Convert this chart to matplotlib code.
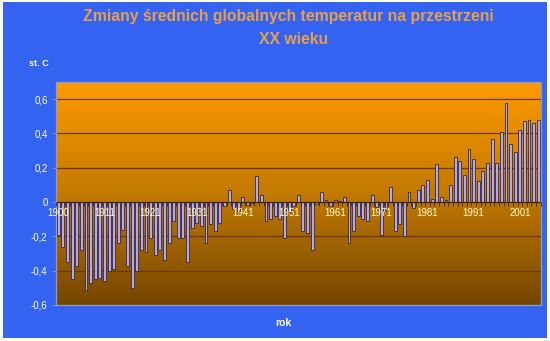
import numpy as np
import matplotlib.pyplot as plt
from matplotlib.colors import LinearSegmentedColormap
from matplotlib.patches import Rectangle

plt.rcParams['font.family'] = ['Liberation Sans', 'DejaVu Sans']

# odchylenia temperatury dla kolejnych lat (st. C)
anomalie = [-0.19, -0.26, -0.35, -0.45, -0.37, -0.28, -0.51, -0.47, -0.45, -0.44,
            -0.46, -0.40, -0.39, -0.24, -0.16, -0.37, -0.50, -0.40, -0.28, -0.29,
            -0.21, -0.31, -0.28, -0.34, -0.24, -0.11, -0.21, -0.21, -0.35, -0.15,
            -0.12, -0.14, -0.24, -0.13, -0.17, -0.12, -0.02, 0.07, -0.04, -0.05,
            0.03, -0.015, -0.005, 0.15, 0.04, -0.11, -0.10, -0.08, -0.10, -0.21,
            -0.06, -0.02, 0.04, -0.17, -0.18, -0.28, -0.01, 0.06, 0.01, -0.025,
            0.01, 0.005, 0.03, -0.24, -0.17, -0.08, -0.10, -0.11, 0.04, -0.03,
            -0.19, -0.045, 0.09, -0.17, -0.13, -0.20, 0.06, -0.035, 0.07, 0.10,
            0.13, 0.02, 0.22, 0.03, 0.01, 0.10, 0.26, 0.24, 0.16, 0.31,
            0.25, 0.12, 0.18, 0.23, 0.37, 0.23, 0.41, 0.58, 0.34, 0.29,
            0.42, 0.47, 0.48, 0.46, 0.48]

etykiety_lat = ['1900', '1911', '1921', '1931', '1941', '1951', '1961', '1971', '1981', '1991', '2001']
pozycje_etykiet = [0, 10, 20, 30, 40, 50, 60, 70, 80, 90, 100]

ticki_y = [-0.6, -0.4, -0.2, 0, 0.2, 0.4, 0.6]
etykiety_y = ['-0,6', '-0,4', '-0,2', '0', '0,2', '0,4', '0,6']

jasny = '#FFFFCC'
n = len(anomalie)

fig = plt.figure(figsize=(5.5, 3.41), dpi=100, facecolor='white')
tlo = Rectangle((3/550, 3/341), 544/550, 336/341, transform=fig.transFigure,
                facecolor='#3463F2', edgecolor='none', zorder=-10)
fig.add_artist(tlo)

ax = fig.add_axes([56/550, 1 - 305/341, 484.6/550, 223/341])

# gradient tla obszaru wykresu
cmap = LinearSegmentedColormap.from_list('brazowy', ['#754600', '#C27A00', '#FF9A00'])
ax.imshow(np.linspace(0, 1, 256).reshape(-1, 1), extent=(-0.5, n - 0.5, -0.6, 0.7),
          aspect='auto', cmap=cmap, origin='lower', zorder=0)
ax.set_xlim(-0.5, n - 0.5)
ax.set_ylim(-0.6, 0.7)

for y in [-0.4, -0.2, 0.2, 0.4, 0.6]:
    ax.axhline(y, color='#6a3800', lw=0.9, zorder=1)

ax.bar(np.arange(n), anomalie, width=0.62, color='#B4A8E6', edgecolor='#3a2a3a',
       linewidth=0.6, zorder=2)

# os x na wysokosci zera
for s in ['top', 'right', 'bottom', 'left']:
    ax.spines[s].set_visible(False)
ax.spines['bottom'].set_visible(True)
ax.spines['bottom'].set_position(('data', 0))
ax.spines['bottom'].set_color('#3a2410')
ax.spines['bottom'].set_linewidth(0.9)
ax.spines['bottom'].set_zorder(4)
ax.set_xticks(pozycje_etykiet, etykiety_lat)
ax.set_xticks(np.arange(-0.5, n), minor=True)
ax.tick_params(axis='x', which='major', length=0, pad=4, labelsize=7, labelcolor=jasny)
ax.tick_params(axis='x', which='minor', length=3, width=0.6, color='#3a2410', direction='out')
ax.xaxis.set_zorder(6)

ax.set_yticks(ticki_y, etykiety_y)
ax.tick_params(axis='y', length=3, width=0.6, color='#8a96b8', labelsize=7, labelcolor=jasny, pad=3)

ramka = Rectangle((0, 0), 1, 1, transform=ax.transAxes, fill=False,
                  edgecolor='#8e9cc4', lw=0.9, clip_on=False, zorder=5)
ax.add_patch(ramka)

fig.text(288.5/550, 1 - 17/341, 'Zmiany średnich globalnych temperatur na przestrzeni',
         ha='center', va='center', fontsize=11.3, fontweight='bold', color='#E8A048')
fig.text(294/550, 1 - 39/341, 'XX wieku',
         ha='center', va='center', fontsize=11.3, fontweight='bold', color='#E8A048')
fig.text(39/550, 1 - 63/341, 'st. C', ha='center', va='center', fontsize=6.5,
         fontweight='bold', color=jasny)
fig.text(283/550, 1 - 323/341, 'rok', ha='center', va='center', fontsize=7.5,
         fontweight='bold', color=jasny)

plt.savefig('out.png', dpi=100, facecolor=fig.get_facecolor())
